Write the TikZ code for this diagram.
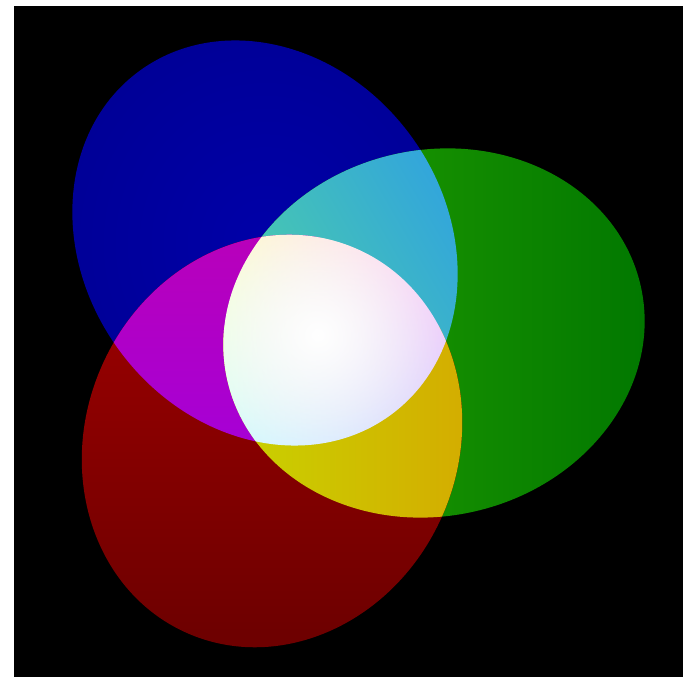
\documentclass[tikz,border=0pt]{standalone}
\usepackage{tikz}
\usepackage{xcolor}
\usetikzlibrary{fadings,shadings}
\definecolor{frame}{RGB}{255,255,255}
\definecolor{backdrop}{RGB}{0,0,0}
\definecolor{blueMain}{RGB}{0,0,150}
\definecolor{blueLight}{RGB}{0,0,168}
\definecolor{greenLight}{RGB}{40,165,0}
\definecolor{greenDark}{RGB}{0,118,0}
\definecolor{redMain}{RGB}{165,0,0}
\definecolor{redDark}{RGB}{110,0,0}
\definecolor{cyanTop}{RGB}{75,205,170}
\definecolor{cyanEdge}{RGB}{50,165,220}
\definecolor{magentaMain}{RGB}{185,0,185}
\definecolor{magentaEdge}{RGB}{165,0,215}
\definecolor{yellowMain}{RGB}{200,212,0}
\definecolor{yellowEdge}{RGB}{212,172,0}
\definecolor{whiteWarm}{RGB}{255,255,200}
\definecolor{whitePink}{RGB}{255,200,250}
\definecolor{whiteCool}{RGB}{210,255,255}
\definecolor{whiteLilac}{RGB}{215,210,255}

\tikzfading[name=glow, inner color=transparent!0, outer color=transparent!100]

\newcommand{\bluespot}{(265,434) circle [x radius=181, y radius=213, rotate=36]}
\newcommand{\greenspot}{(434,344) circle [x radius=212, y radius=183, rotate=13]}
\newcommand{\redspot}{(272,236) circle [x radius=186, y radius=210, rotate=-24]}

\begin{document}
\begin{tikzpicture}[x=1pt,y=1pt]
  \fill[frame] (0,0) rectangle (683,677);
  \fill[backdrop] (14,0) rectangle (683,671);

  % single spots
  \shade[inner color=blueLight, outer color=blueMain] \bluespot;
  \shade[left color=greenLight, right color=greenDark] \greenspot;
  \shade[top color=redMain, bottom color=redDark] \redspot;

  % blue + green
  \begin{scope}
    \clip \bluespot;
    \clip \greenspot;
    \shade[left color=cyanTop, right color=cyanEdge, shading angle=120]
      (220,330) rectangle (470,540);
  \end{scope}

  % blue + red
  \begin{scope}
    \clip \bluespot;
    \clip \redspot;
    \shade[top color=magentaMain, bottom color=magentaEdge]
      (90,220) rectangle (320,450);
  \end{scope}

  % red + green
  \begin{scope}
    \clip \redspot;
    \clip \greenspot;
    \shade[left color=yellowMain, right color=yellowEdge]
      (220,140) rectangle (470,350);
  \end{scope}

  % all three
  \begin{scope}
    \clip \bluespot;
    \clip \redspot;
    \clip \greenspot;
    \shade[upper left=whiteWarm, upper right=whitePink,
      lower left=whiteCool, lower right=whiteLilac] (215,225) rectangle (455,450);
    \fill[white, path fading=glow] (318,342) circle (130);
  \end{scope}
\end{tikzpicture}
\end{document}
